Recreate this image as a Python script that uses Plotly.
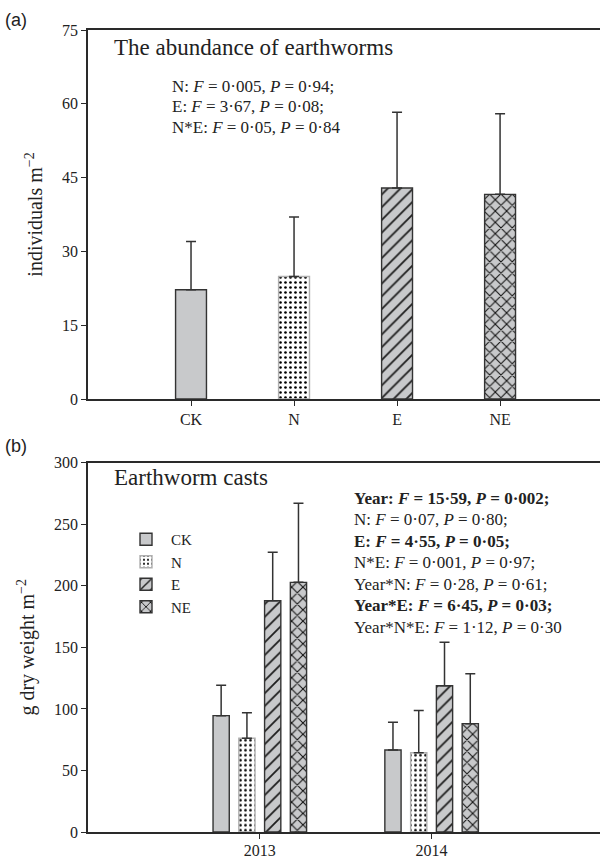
import plotly.graph_objects as go

# ---- data ----
treatments = ["CK", "N", "E", "NE"]
abund_mean = [22.2, 24.9, 42.9, 41.6]
abund_err = [9.8, 12.1, 15.4, 16.4]

years = ["2013", "2014"]
casts_mean = {
    "CK": [94.5, 66.6],
    "N": [76.1, 64.4],
    "E": [187.9, 118.8],
    "NE": [202.8, 88.0],
}
casts_err = {
    "CK": [24.7, 22.5],
    "N": [20.8, 34.4],
    "E": [39.3, 35.3],
    "NE": [64.2, 40.6],
}

yticks_a = [0, 15, 30, 45, 60, 75]
yticks_b = [0, 50, 100, 150, 200, 250, 300]

# ---- styles ----
GRAY = "#c8c9cb"
DARK = "#2a2a2a"
styles = {
    "CK": dict(shape="", bg=GRAY, fg=DARK, size=8, solidity=0.3, line="#333333"),
    "N": dict(shape=".", bg="white", fg="#000000", size=5, solidity=0.22, line="#b0b0b0"),
    "E": dict(shape="/", bg=GRAY, fg="#1e1e1e", size=9, solidity=0.2, line="#333333"),
    "NE": dict(shape="x", bg=GRAY, fg="#111111", size=8, solidity=0.25, line="#333333"),
}
SERIF = "Liberation Serif"
W, H = 600, 859
L = 88

fig = go.Figure()

# panel (a)
for t, m, e in zip(treatments, abund_mean, abund_err):
    s = styles[t]
    fig.add_trace(go.Bar(
        x=[t], y=[m], width=0.3, xaxis="x", yaxis="y", showlegend=False,
        marker=dict(color=s["bg"], line=dict(color=s["line"], width=1.4),
                    pattern=dict(shape=s["shape"], bgcolor=s["bg"], fgcolor=s["fg"],
                                 size=s["size"], solidity=s["solidity"], fillmode="replace")),
        error_y=dict(type="data", symmetric=False, array=[e], arrayminus=[0],
                     color="#333333", thickness=1.5, width=5),
    ))

# panel (b): grouped bars
for t in treatments:
    s = styles[t]
    fig.add_trace(go.Bar(
        x=years, y=casts_mean[t], name=t, xaxis="x2", yaxis="y2",
        marker=dict(color=s["bg"], line=dict(color=s["line"], width=1.4),
                    pattern=dict(shape=s["shape"], bgcolor=s["bg"], fgcolor=s["fg"],
                                 size=s["size"], solidity=s["solidity"], fillmode="replace")),
        error_y=dict(type="data", symmetric=False, array=casts_err[t],
                     arrayminus=[0] * len(years),
                     color="#333333", thickness=1.5, width=5),
    ))

def ydom(top_px, bot_px):
    return [1 - bot_px / H, 1 - top_px / H]

axis_common = dict(showline=True, linecolor=DARK, linewidth=1.5, ticks="outside",
                   ticklen=5, tickcolor=DARK, tickwidth=1.3, showgrid=False,
                   zeroline=False, automargin=False,
                   tickfont=dict(family=SERIF, size=16, color="#222"))

fig.update_layout(
    width=W, height=H, margin=dict(l=L, r=0, t=0, b=0, autoexpand=False),
    paper_bgcolor="white", plot_bgcolor="white",
    barmode="group", bargap=0.4, bargroupgap=0.37,
    font=dict(family=SERIF, color="#222"),
    xaxis=dict(axis_common, domain=[0, 1], anchor="y", mirror=True,
               type="category", range=[-1, 3.97]),
    yaxis=dict(axis_common, domain=ydom(30, 399), anchor="x", range=[0, 75],
               tickvals=yticks_a,
               title=dict(text="individuals m<sup>−2</sup>", font=dict(family=SERIF, size=20),
                          standoff=14)),
    xaxis2=dict(axis_common, domain=[0, 1], anchor="y2", mirror=True,
                type="category", range=[-1, 1.98], ticklabelstandoff=-2),
    yaxis2=dict(axis_common, domain=ydom(462.7, 832), anchor="x2", range=[0, 300],
                tickvals=yticks_b,
                title=dict(text="g dry weight m<sup>−2</sup>", font=dict(family=SERIF, size=20),
                           standoff=14)),
    legend=dict(x=(121 - L) / (W - L), xref="paper", y=1 - 523 / H, yanchor="top",
                xanchor="left", bgcolor="rgba(0,0,0,0)", borderwidth=0,
                font=dict(family=SERIF, size=15, color="#222"),
                tracegroupgap=0, itemwidth=40),
)

ann = []
ann.append(dict(text="(a)", x=3, y=20, showarrow=False,
                font=dict(family="Liberation Sans", size=18, color="#222"),
                xanchor="left", yanchor="middle"))
ann.append(dict(text="(b)", x=3, y=446, showarrow=False,
                font=dict(family="Liberation Sans", size=18, color="#222"),
                xanchor="left", yanchor="middle"))
ann.append(dict(text="The abundance of earthworms", x=112, y=48, showarrow=False,
                font=dict(family=SERIF, size=23, color="#222"), xanchor="left", yanchor="middle"))
ann.append(dict(text="Earthworm casts", x=112, y=478, showarrow=False,
                font=dict(family=SERIF, size=23, color="#222"), xanchor="left", yanchor="middle"))

stats_a = [
    "N: <i>F</i> = 0·005, <i>P</i> = 0·94;",
    "E: <i>F</i> = 3·67, <i>P</i> = 0·08;",
    "N*E: <i>F</i> = 0·05, <i>P</i> = 0·84",
]
for i, s in enumerate(stats_a):
    ann.append(dict(text=s, x=170, y=86 + i * 20.5, showarrow=False,
                    font=dict(family=SERIF, size=17, color="#222"),
                    xanchor="left", yanchor="middle"))

stats_b = [
    "<b>Year: <i>F</i> = 15·59, <i>P</i> = 0·002;</b>",
    "N: <i>F</i> = 0·07, <i>P</i> = 0·80;",
    "<b>E: <i>F</i> = 4·55, <i>P</i> = 0·05;</b>",
    "N*E: <i>F</i> = 0·001, <i>P</i> = 0·97;",
    "Year*N: <i>F</i> = 0·28, <i>P</i> = 0·61;",
    "<b>Year*E: <i>F</i> = 6·45, <i>P</i> = 0·03;</b>",
    "Year*N*E: <i>F</i> = 1·12, <i>P</i> = 0·30",
]
for i, s in enumerate(stats_b):
    ann.append(dict(text=s, x=352, y=498 + i * 21.5, showarrow=False,
                    font=dict(family=SERIF, size=17, color="#222"),
                    xanchor="left", yanchor="middle"))

for a in ann:
    a["xref"] = "paper"
    a["yref"] = "paper"
    a["x"] = (a["x"] - L) / (W - L)
    a["y"] = 1 - a["y"] / H
fig.update_layout(annotations=ann)

fig.write_html("out.html", config={"displayModeBar": False},
               post_script="document.body.style.margin='0px';document.body.style.overflow='hidden';")
